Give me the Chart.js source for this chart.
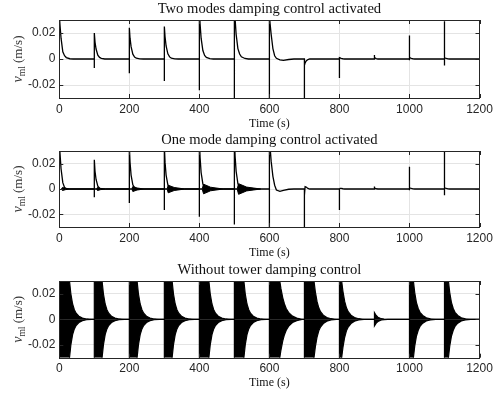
<!DOCTYPE html>
<html>
<head>
<meta charset="utf-8">
<script src="https://cdn.jsdelivr.net/npm/chart.js@4.4.0/dist/chart.umd.min.js"></script>
<style>
  html, body { margin: 0; padding: 0; background: #fff; }
  body { width: 498px; height: 396px; position: relative; overflow: hidden; }
  .panel { position: absolute; left: 0; width: 498px; }
</style>
</head>
<body>
<div class="panel" style="top:0;height:130px"><canvas id="c1" width="498" height="130"></canvas></div>
<div class="panel" style="top:130px;height:130px"><canvas id="c2" width="498" height="130"></canvas></div>
<div class="panel" style="top:260px;height:136px"><canvas id="c3" width="498" height="136"></canvas></div>
<script>
// disturbance events (s)
const eventTimes = [0, 100, 200, 300, 400, 500, 600, 700, 800, 900, 1000, 1100];
const xTicks = [0, 200, 400, 600, 800, 1000, 1200];
const xTickLabels = ["0", "200", "400", "600", "800", "1000", "1200"];
const yTicks = [-0.02, 0, 0.02];
const yTickLabels = ["-0.02", "0", "0.02"];

// seconds after each event where the tail is read
const tailOffsets = [0, 2, 5, 10, 15, 20, 30, 40, 55, 70];

// --- two modes damping ---
const twoUp   = [0.034, 0.020, 0.024, 0.025, 0.034, 0.034, 0.034, 0.0005, 0.001, 0.003, 0.018, 0.029];
const twoDown = [0, -0.007, -0.011, -0.017, -0.024, -0.034, -0.034, -0.034, -0.0146, 0, -0.001, -0.005];
const twoTails = [
  [0.034, 0.026, 0.016, 0.0055, 0.0025, 0.0011, 0.0002, 0, 0, 0],
  [0.020, 0.013, 0.0077, 0.003, 0.0012, 0.0005, 0, 0, 0, 0],
  [0.024, 0.016, 0.0095, 0.0037, 0.0015, 0.0006, 0.0001, 0, 0, 0],
  [0.025, 0.017, 0.010, 0.004, 0.0016, 0.0007, 0.0001, 0, 0, 0],
  [0.040, 0.027, 0.016, 0.0065, 0.0028, 0.0012, 0.0003, 0, 0, 0],
  [0.045, 0.031, 0.019, 0.008, 0.0038, 0.0017, 0.0004, 0, 0, 0],
  [0.034, 0.027, 0.019, 0.008, 0.0025, 0.0005, -0.0007, -0.001, -0.0004, 0],
  [-0.005, -0.003, -0.0015, -0.0004, 0, 0, 0, 0, 0, 0],
  [0.001, 0.0008, 0.0005, 0.0002, 0, 0, 0, 0, 0, 0],
  [0.0015, 0.0008, 0.0003, 0, 0, 0, 0, 0, 0, 0],
  [0.0015, 0.001, 0.0005, 0.0002, 0, 0, 0, 0, 0, 0],
  [0.0012, 0.0008, 0.0004, 0.0001, 0, 0, 0, 0, 0, 0]
];

// --- one mode damping ---
const oneUp   = [0.040, 0.023, 0.034, 0.034, 0.034, 0.034, 0.034, 0.0005, 0.0005, 0.002, 0.0176, 0.034];
const oneDown = [0, -0.0066, -0.011, -0.0166, -0.022, -0.028, -0.034, -0.034, -0.0166, 0, -0.001, -0.005];
const oneTails = [
  [0.040, 0.028, 0.016, 0.005, 0.0012, 0.0003, 0, 0, 0, 0],
  [0.023, 0.014, 0.0075, 0.0022, 0.0006, 0.0001, 0, 0, 0, 0],
  [0.034, 0.021, 0.011, 0.0033, 0.0009, 0.0002, 0, 0, 0, 0],
  [0.034, 0.021, 0.011, 0.0033, 0.0009, 0.0002, 0, 0, 0, 0],
  [0.040, 0.025, 0.013, 0.004, 0.0011, 0.0003, 0, 0, 0, 0],
  [0.042, 0.026, 0.014, 0.0042, 0.0012, 0.0003, 0, 0, 0, 0],
  [0.045, 0.033, 0.022, 0.010, 0.003, -0.0008, -0.0018, -0.001, -0.0002, 0],
  [-0.005, 0.0018, 0.0015, 0.0004, 0, 0, 0, 0, 0, 0],
  [0, 0.0005, 0.0005, 0.0002, 0, 0, 0, 0, 0, 0],
  [0.001, 0.0005, 0.0002, 0, 0, 0, 0, 0, 0, 0],
  [0.0012, 0.0008, 0.0004, 0.0001, 0, 0, 0, 0, 0, 0],
  [0.0012, 0.0008, 0.0004, 0.0001, 0, 0, 0, 0, 0, 0]
];
// residual oscillation after the first six events
const blobOffsets = [[6, 9, 18, 30], [6, 9, 18, 32], [7, 10, 22, 42], [8, 11, 28, 58], [8, 12, 32, 68], [8, 12, 35, 75]];
const blobAmps = [
  [0, 0.0012, 0.0005, 0], [0, 0.0012, 0.0005, 0], [0, 0.002, 0.0008, 0],
  [0, 0.003, 0.0012, 0], [0, 0.0038, 0.0014, 0], [0, 0.0042, 0.0015, 0]
];

// --- no damping: oscillation envelope ---
const holdSec = [28, 21, 21, 21, 26, 26, 28, 26, 5, 0, 10, 10];
const envOffsets = [0, 5, 10, 15, 20, 28, 38, 50, 65];
const envAmps = [
  [0.033, 0.02, 0.012, 0.0075, 0.0048, 0.0025, 0.001, 0.0003, 0],
  [0.033, 0.02, 0.012, 0.0075, 0.0048, 0.0025, 0.001, 0.0003, 0],
  [0.033, 0.02, 0.012, 0.0075, 0.0048, 0.0025, 0.001, 0.0003, 0],
  [0.033, 0.02, 0.012, 0.0075, 0.0048, 0.0025, 0.001, 0.0003, 0],
  [0.033, 0.02, 0.012, 0.0075, 0.0048, 0.0025, 0.001, 0.0003, 0],
  [0.033, 0.02, 0.012, 0.0075, 0.0048, 0.0025, 0.001, 0.0003, 0],
  [0.033, 0.024, 0.017, 0.012, 0.0085, 0.005, 0.0025, 0.001, 0],
  [0.033, 0.022, 0.014, 0.009, 0.006, 0.0033, 0.0014, 0.0005, 0],
  [0.033, 0.022, 0.014, 0.009, 0.006, 0.0033, 0.0014, 0.0005, 0],
  [0.0052, 0.003, 0.0017, 0.001, 0.0005, 0.0002, 0, 0, 0],
  [0.033, 0.021, 0.013, 0.0085, 0.0055, 0.003, 0.0012, 0.0004, 0],
  [0.033, 0.021, 0.013, 0.0085, 0.0055, 0.003, 0.0012, 0.0004, 0]
];

function spikeSeries(ups, downs, tails) {
  const pts = [];
  eventTimes.forEach((t0, i) => {
    pts.push({ x: t0, y: 0 }, { x: t0, y: downs[i] }, { x: t0, y: ups[i] });
    tailOffsets.forEach((d, j) => pts.push({ x: t0 + d, y: tails[i][j] }));
  });
  pts.push({ x: 1200, y: 0 });
  return pts;
}

function blobSeries(sign) {
  const pts = [];
  blobOffsets.forEach((offs, i) => {
    offs.forEach((d, j) => pts.push({ x: eventTimes[i] + d, y: sign * blobAmps[i][j] }));
  });
  return pts;
}

function envelopeSeries(sign) {
  const pts = [];
  eventTimes.forEach((t0, i) => {
    pts.push({ x: t0, y: 0 }, { x: t0, y: sign * envAmps[i][0] });
    envOffsets.forEach((d, j) => pts.push({ x: t0 + holdSec[i] + d, y: sign * envAmps[i][j] }));
  });
  pts.push({ x: 1200, y: 0 });
  return pts;
}

const tickFont = { family: "'Liberation Sans', Arial, sans-serif", size: 12 };
const serif = "'Liberation Serif', 'Times New Roman', serif";

function framePlugin(title) {
  return {
    id: 'frame',
    afterDatasetsDraw(chart) {
      const { ctx, chartArea: a, scales } = chart;
      ctx.save();
      ctx.strokeStyle = '#262626';
      ctx.lineWidth = 1;
      ctx.beginPath();
      xTicks.forEach(v => {
        const px = Math.round(scales.x.getPixelForValue(v)) + 0.5;
        ctx.moveTo(px, a.bottom); ctx.lineTo(px, a.bottom - 4);
        ctx.moveTo(px, a.top); ctx.lineTo(px, a.top + 4);
      });
      yTicks.forEach(v => {
        const py = Math.round(scales.y.getPixelForValue(v)) + 0.5;
        ctx.moveTo(a.left, py); ctx.lineTo(a.left + 4, py);
        ctx.moveTo(a.right, py); ctx.lineTo(a.right - 4, py);
      });
      ctx.stroke();
      ctx.strokeRect(Math.round(a.left) + 0.5, Math.round(a.top) + 0.5,
        Math.round(a.right - a.left), Math.round(a.bottom - a.top));
      ctx.restore();
    },
    afterDraw(chart) {
      const { ctx, chartArea: a } = chart;
      const cx = (a.left + a.right) / 2;
      ctx.save();
      ctx.fillStyle = '#111';
      ctx.textAlign = 'center';
      ctx.textBaseline = 'middle';
      ctx.font = '14.6px ' + serif;
      ctx.fillText(title, cx, a.top - 10.5);
      ctx.font = '12px ' + serif;
      ctx.fillText('Time (s)', cx, a.bottom + 25.5);

      // y label: v_ml (m/s)
      ctx.fillStyle = '#333';
      ctx.translate(18, (a.top + a.bottom) / 2);
      ctx.rotate(-Math.PI / 2);
      ctx.textAlign = 'left';
      ctx.textBaseline = 'alphabetic';
      const fv = 'italic 14px ' + serif, fs = '9.5px ' + serif, fr = '13px ' + serif;
      ctx.font = fv; const wv = ctx.measureText('v').width;
      ctx.font = fs; const ws = ctx.measureText('ml').width;
      ctx.font = fr; const wr = ctx.measureText(' (m/s)').width;
      let x = -(wv + ws + wr) / 2;
      ctx.font = fv; ctx.fillText('v', x, 4); x += wv;
      ctx.font = fs; ctx.fillText('ml', x, 7); x += ws;
      ctx.font = fr; ctx.fillText(' (m/s)', x, 4);
      ctx.restore();
    }
  };
}

function makeChart(id, datasets, areaTop, xHeight, title) {
  return new Chart(document.getElementById(id), {
    type: 'line',
    data: { datasets },
    options: {
      responsive: false,
      animation: false,
      events: [],
      layout: { padding: { top: areaTop, right: 18.5, left: 0, bottom: 0 } },
      plugins: { legend: { display: false }, tooltip: { enabled: false }, title: { display: false } },
      elements: { point: { radius: 0 }, line: { tension: 0, borderWidth: 1.3, borderColor: '#000' } },
      scales: {
        x: {
          type: 'linear', min: 0, max: 1200,
          afterBuildTicks: s => { s.ticks = xTicks.map(v => ({ value: v })); },
          afterFit: s => { s.height = xHeight; },
          ticks: { font: tickFont, color: '#262626', padding: 4, maxRotation: 0, autoSkip: false,
                   callback: (v, i) => xTickLabels[i] },
          grid: { color: '#e4e4e4', lineWidth: 1, drawTicks: false },
          border: { display: false }
        },
        y: {
          type: 'linear', min: -0.03, max: 0.03,
          afterBuildTicks: s => { s.ticks = yTicks.map(v => ({ value: v })); },
          afterFit: s => { s.width = 59.3; },
          ticks: { font: tickFont, color: '#262626', padding: 4,
                   callback: (v, i) => yTickLabels[i] },
          grid: { color: '#e4e4e4', lineWidth: 1, drawTicks: false },
          border: { display: false }
        }
      }
    },
    plugins: [framePlugin(title)]
  });
}

makeChart('c1', [
  { data: spikeSeries(twoUp, twoDown, twoTails), borderColor: '#000', borderWidth: 1.3, fill: false }
], 20, 32, 'Two modes damping control activated');

makeChart('c2', [
  { data: blobSeries(1), borderColor: '#000', borderWidth: 1, backgroundColor: '#000', fill: 'origin' },
  { data: blobSeries(-1), borderColor: '#000', borderWidth: 1, backgroundColor: '#000', fill: 'origin' },
  { data: spikeSeries(oneUp, oneDown, oneTails), borderColor: '#000', borderWidth: 1.3, fill: false }
], 21, 33, 'One mode damping control activated');

makeChart('c3', [
  { data: envelopeSeries(1), borderColor: '#000', borderWidth: 1.2, backgroundColor: '#000', fill: 'origin' },
  { data: envelopeSeries(-1), borderColor: '#000', borderWidth: 1.2, backgroundColor: '#000', fill: 'origin' }
], 21, 38.3, 'Without tower damping control');
</script>
</body>
</html>
